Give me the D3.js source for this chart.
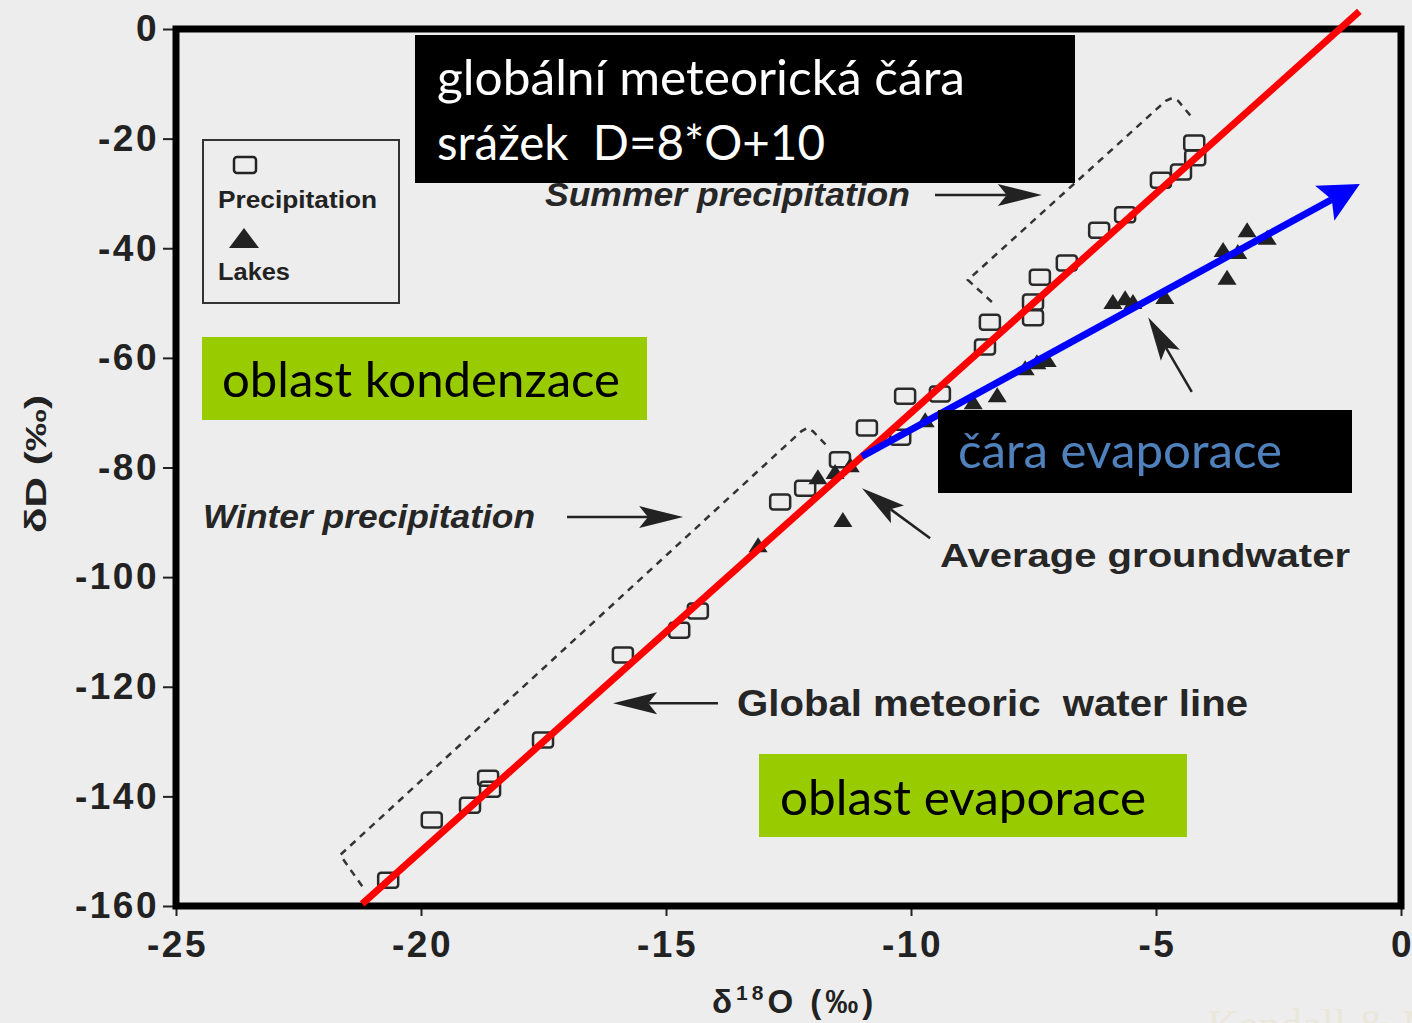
<!DOCTYPE html>
<html>
<head>
<meta charset="utf-8">
<script src="https://cdn.jsdelivr.net/npm/d3@7"></script>
<style>
  html, body { margin: 0; padding: 0; background: #ededed; overflow: hidden; }
  svg { display: block; }
</style>
</head>
<body>
<svg id="chart" width="1412" height="1023"></svg>
<script>
// ---- data: [δ18O, δD] in ‰ ----
const precipitation = [
  [-20.67, -155.3], [-19.78, -144.3], [-19.0, -141.6], [-18.63, -136.7], [-18.59, -138.7],
  [-17.51, -129.7], [-15.88, -114.2], [-14.73, -109.7], [-14.35, -106.2], [-12.67, -86.3],
  [-12.16, -83.8], [-11.45, -78.6], [-10.90, -72.8], [-10.22, -74.5], [-10.12, -67.0],
  [-9.41, -66.6], [-8.39, -53.5], [-8.49, -58.0], [-7.51, -49.8], [-7.51, -52.7],
  [-7.37, -45.3], [-6.82, -42.7], [-6.16, -36.7], [-5.63, -33.9], [-4.90, -27.6],
  [-4.49, -26.1], [-4.22, -20.8], [-4.20, -23.5]
];
const lakes = [
  [-13.12, -94.2], [-11.90, -81.8], [-11.55, -80.8], [-11.24, -79.6], [-11.39, -89.6],
  [-9.71, -71.4], [-8.73, -68.1], [-8.24, -66.8], [-7.67, -61.9], [-7.43, -60.8],
  [-7.22, -60.4], [-5.88, -49.8], [-5.63, -49.1], [-5.47, -49.8], [-4.82, -48.9],
  [-3.55, -45.4], [-3.63, -40.3], [-3.33, -40.7], [-3.14, -36.7], [-2.73, -38.1]
];
const xTicks = [-25, -20, -15, -10, -5, 0];
const yTicks = [0, -20, -40, -60, -80, -100, -120, -140, -160];

// global meteoric water line D = 8*O + 10, drawn over this δ18O span
const gmwlCoef = [8, 10];
const gmwlRange = [-21.2, -0.85];
// evaporation line, starting on the GMWL
const evaporationLine = [[-11.0, -78.0], [-0.84, -28.3]];

// seasonal envelopes (dashed outlines)
const winterEnvelope = [[-21.20, -156.4], [-21.65, -150.7], [-12.24, -73.4], [-12.12, -72.8], [-12.0, -73.4], [-11.71, -76.1]];
const summerEnvelope = [[-8.35, -49.8], [-8.84, -45.8], [-4.80, -13.1], [-4.67, -12.6], [-4.55, -13.1], [-4.27, -16.1]];

// annotation arrows: [tail, tip]
const annotationArrows = [
  [[-9.51, -30.3], [-7.33, -30.3]],   // summer precipitation
  [[-17.02, -89.05], [-14.65, -89.05]], // winter precipitation
  [[-13.94, -123.0], [-16.08, -123.0]], // global meteoric water line
  [[-9.61, -92.9], [-11.0, -83.8]],   // average groundwater
  [[-4.27, -66.2], [-5.16, -52.6]]    // lakes
];

// ---- drawing ----
const svg = d3.select("#chart");
const x = d3.scaleLinear().domain([-25, 0]).range([176, 1401]);
const y = d3.scaleLinear().domain([-160, 0]).range([906, 29]);
const ink = "#222";
const helv = "'Liberation Sans', Arial, Helvetica, sans-serif";
const slide = "Lato, 'Open Sans', sans-serif";

svg.append("rect").attr("width", 1412).attr("height", 1023).attr("fill", "#ededed");

// faint watermark in the corner
svg.append("text").attr("x", 1207).attr("y", 1040)
  .attr("font-family", "'Liberation Serif', serif").attr("font-size", 44)
  .attr("fill", "#eae7da").text("Kendall & McDonnell");

// axes (plain hyphen-minus in tick labels)
const fmt = d => String(d);
const yAxis = d3.axisLeft(y).tickValues(yTicks).tickSize(13).tickPadding(4).tickFormat(fmt);
const xAxis = d3.axisBottom(x).tickValues(xTicks).tickSize(10).tickPadding(15).tickFormat(fmt);

const gy = svg.append("g").attr("transform", `translate(${x(-25)},0)`).call(yAxis);
const gx = svg.append("g").attr("transform", `translate(0,${y(-160)})`).call(xAxis);
[gy, gx].forEach(g => {
  g.select(".domain").remove();
  g.selectAll(".tick line").attr("stroke", ink).attr("stroke-width", 2);
  g.selectAll(".tick text")
    .attr("fill", ink)
    .attr("font-family", helv)
    .attr("font-weight", "bold")
    .attr("font-size", 37)
    .attr("letter-spacing", 2.5);
});
gx.selectAll(".tick text").attr("dx", 1);

// frame
svg.append("rect")
  .attr("x", x(-25)).attr("y", y(0))
  .attr("width", x(0) - x(-25)).attr("height", y(-160) - y(0))
  .attr("fill", "none").attr("stroke", "#000").attr("stroke-width", 7);

// axis titles
svg.append("text")
  .attr("transform", `translate(46,464) rotate(-90)`)
  .attr("text-anchor", "middle")
  .attr("font-family", helv).attr("font-weight", "bold").attr("font-size", 30)
  .attr("fill", ink)
  .attr("textLength", 138).attr("lengthAdjust", "spacingAndGlyphs")
  .text("δD (‰)");

const xt = svg.append("text")
  .attr("x", 712).attr("y", 1013)
  .attr("font-family", helv).attr("font-weight", "bold").attr("font-size", 33)
  .attr("fill", ink).attr("letter-spacing", 4).style("white-space", "pre");
xt.append("tspan").text("δ");
xt.append("tspan").attr("font-size", 21).attr("dy", -13).text("18");
xt.append("tspan").attr("dy", 13).text("O (‰)");

// legend
svg.append("rect").attr("x", 203).attr("y", 140).attr("width", 196).attr("height", 163)
  .attr("fill", "none").attr("stroke", "#333").attr("stroke-width", 2);
svg.append("rect").attr("x", 234).attr("y", 157).attr("width", 22).attr("height", 16).attr("rx", 3)
  .attr("fill", "none").attr("stroke", ink).attr("stroke-width", 2.5);
svg.append("path").attr("transform", "translate(244,238)").attr("d", "M0,-10L15,10L-15,10Z").attr("fill", ink);
svg.append("text").attr("x", 218).attr("y", 208)
  .attr("font-family", helv).attr("font-weight", "bold").attr("font-size", 23).attr("fill", ink)
  .attr("textLength", 159).attr("lengthAdjust", "spacingAndGlyphs").text("Precipitation");
svg.append("text").attr("x", 218).attr("y", 280)
  .attr("font-family", helv).attr("font-weight", "bold").attr("font-size", 23).attr("fill", ink)
  .attr("textLength", 72).attr("lengthAdjust", "spacingAndGlyphs").text("Lakes");

// envelopes
const envLine = d3.line().x(d => x(d[0])).y(d => y(d[1]));
[winterEnvelope, summerEnvelope].forEach(env => {
  svg.append("path").attr("d", envLine(env))
    .attr("fill", "none").attr("stroke", "#333").attr("stroke-width", 2.5)
    .attr("stroke-dasharray", "7,6");
});

// data marks
svg.append("g").selectAll("rect").data(precipitation).join("rect")
  .attr("x", d => x(d[0]) - 10).attr("y", d => y(d[1]) - 7.5)
  .attr("width", 20).attr("height", 15).attr("rx", 3)
  .attr("fill", "none").attr("stroke", "#2a2a2a").attr("stroke-width", 2.5);

svg.append("g").selectAll("path").data(lakes).join("path")
  .attr("transform", d => `translate(${x(d[0])},${y(d[1])})`)
  .attr("d", "M0,-8L9.5,7L-9.5,7Z")
  .attr("fill", ink);

// annotation arrows
function arrow(g, tail, tip, len, wid, color, sw) {
  const x0 = x(tail[0]), y0 = y(tail[1]), x1 = x(tip[0]), y1 = y(tip[1]);
  const ang = Math.atan2(y1 - y0, x1 - x0);
  const back = len * 0.8;
  g.append("line")
    .attr("x1", x0).attr("y1", y0)
    .attr("x2", x1 - Math.cos(ang) * back).attr("y2", y1 - Math.sin(ang) * back)
    .attr("stroke", color).attr("stroke-width", sw);
  g.append("path")
    .attr("transform", `translate(${x1},${y1}) rotate(${ang * 180 / Math.PI})`)
    .attr("d", `M0,0L${-len},${-wid / 2}L${-back},0L${-len},${wid / 2}Z`)
    .attr("fill", color);
}
const ga = svg.append("g");
annotationArrows.forEach(a => arrow(ga, a[0], a[1], 44, 22, ink, 2.5));

// annotation text
function label(txt, px, py, size, width, italic) {
  svg.append("text").attr("x", px).attr("y", py)
    .attr("font-family", helv).attr("font-weight", "bold").attr("font-size", size)
    .attr("font-style", italic ? "italic" : "normal")
    .attr("fill", "#262626").style("white-space", "pre")
    .attr("textLength", width).attr("lengthAdjust", "spacingAndGlyphs")
    .text(txt);
}
label("Summer precipitation", 545, 206, 34, 365, true);
label("Winter precipitation", 203, 528, 34, 332, true);
label("Global meteoric  water line", 737, 716, 36, 511, false);
label("Average groundwater", 940, 567, 33, 410, false);

// global meteoric water line
const gmwl = gmwlRange.map(o => [o, gmwlCoef[0] * o + gmwlCoef[1]]);
svg.append("line")
  .attr("x1", x(gmwl[0][0])).attr("y1", y(gmwl[0][1]))
  .attr("x2", x(gmwl[1][0])).attr("y2", y(gmwl[1][1]))
  .attr("stroke", "#ff0000").attr("stroke-width", 7);

// evaporation line with arrow head
arrow(svg.append("g"), evaporationLine[0], evaporationLine[1], 40, 40, "#0000ff", 7);

// text boxes
function box(bx, by, bw, bh, fill) {
  svg.append("rect").attr("x", bx).attr("y", by).attr("width", bw).attr("height", bh).attr("fill", fill);
}
function slideText(txt, px, py, width, color) {
  svg.append("text").attr("x", px).attr("y", py)
    .attr("font-family", slide).attr("font-size", 48).attr("fill", color)
    .style("white-space", "pre")
    .attr("textLength", width).attr("lengthAdjust", "spacingAndGlyphs")
    .text(txt);
}
box(415, 35, 660, 148, "#000");
slideText("globální meteorická čára", 437, 95, 528, "#fff");
slideText("srážek  D=8*O+10", 437, 160, 388, "#fff");

box(202, 337, 445, 83, "#99cc00");
slideText("oblast kondenzace", 222, 397, 398, "#000");

box(759, 754, 428, 83, "#99cc00");
slideText("oblast evaporace", 780, 815, 366, "#000");

box(938, 410, 414, 83, "#000");
slideText("čára evaporace", 958, 468, 324, "#4f81bd");
</script>
</body>
</html>
